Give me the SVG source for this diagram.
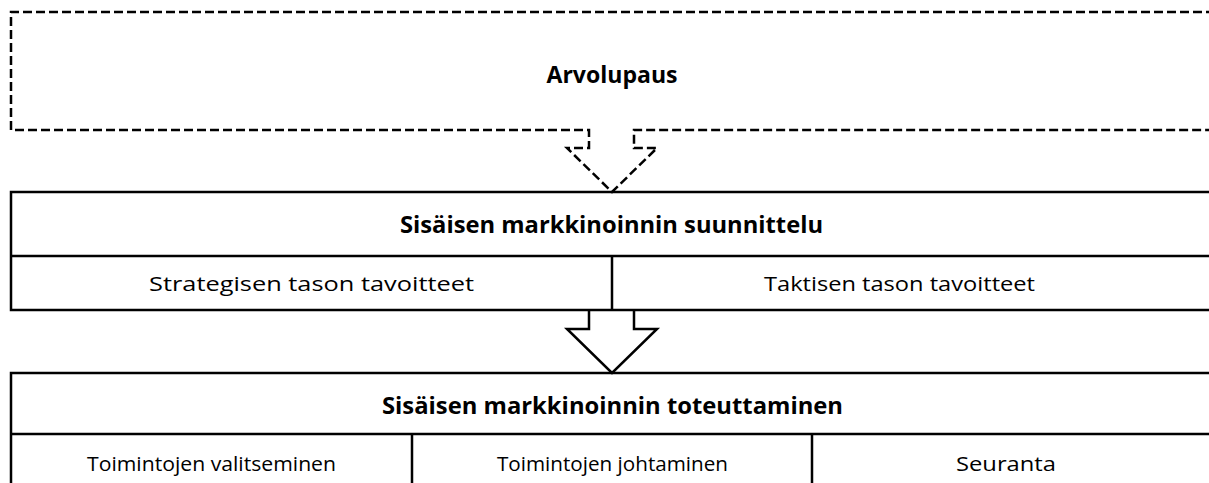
<svg xmlns="http://www.w3.org/2000/svg" width="1209" height="483" viewBox="0 0 1209 483">
<style>
.ln{fill:none;stroke:#000;stroke-width:2.5}
.ds{fill:none;stroke:#000;stroke-width:2.5;stroke-dasharray:9,4}
.h{font-family:"Open Sans","Liberation Sans",sans-serif;font-weight:bold;font-size:24px;fill:#000;text-anchor:middle}
.t{font-family:"Open Sans","Liberation Sans",sans-serif;font-size:20px;fill:#000;text-anchor:middle}
</style>
<rect width="1209" height="483" fill="#fff"/>
<g id="arvolupaus">
<path class="ds" d="M1215,12 H11 V130 H589 V148 H567 L612,192 L657,148 H634 V130 H1215"/>
<text class="h" x="612" y="83" textLength="131" lengthAdjust="spacingAndGlyphs">Arvolupaus</text>
</g>
<g id="suunnittelu">
<path class="ln" d="M1215,192 H11 V310 H1215 M11,256 H1215 M612,256 V310"/>
<text class="h" x="611.5" y="233" textLength="423" lengthAdjust="spacingAndGlyphs">Sisäisen markkinoinnin suunnittelu</text>
<text class="t" x="311.5" y="291" textLength="325" lengthAdjust="spacingAndGlyphs">Strategisen tason tavoitteet</text>
<text class="t" x="899.5" y="291" textLength="271" lengthAdjust="spacingAndGlyphs">Taktisen tason tavoitteet</text>
</g>
<g id="connectors">
<path class="ln" d="M589,310 V329 H567 L612,373 L657,329 H634 V310"/>
</g>
<g id="toteuttaminen">
<path class="ln" d="M1215,373 H11 V490 M11,434 H1215 M412,434 V490 M812,434 V490"/>
<text class="h" x="612.5" y="414" textLength="461" lengthAdjust="spacingAndGlyphs">Sisäisen markkinoinnin toteuttaminen</text>
<text class="t" x="211.5" y="471" textLength="249" lengthAdjust="spacingAndGlyphs">Toimintojen valitseminen</text>
<text class="t" x="612.5" y="471" textLength="231" lengthAdjust="spacingAndGlyphs">Toimintojen johtaminen</text>
<text class="t" x="1006" y="471" textLength="100" lengthAdjust="spacingAndGlyphs">Seuranta</text>
</g>
</svg>
